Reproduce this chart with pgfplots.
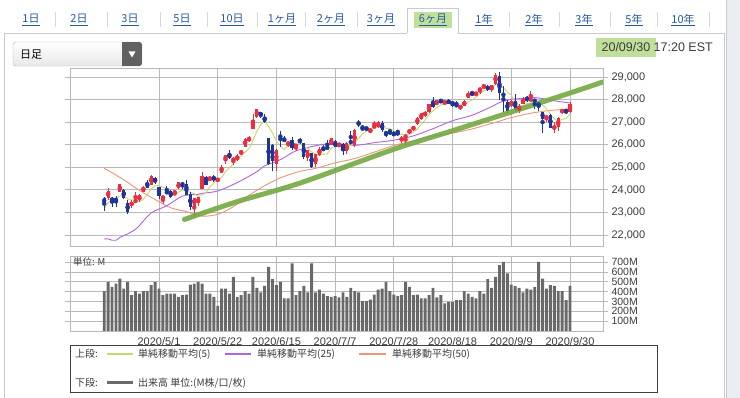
\documentclass[border=0pt]{standalone}
\usepackage{fontspec}
\setmainfont{Noto Sans CJK JP}
\newfontfamily\lat{Liberation Sans}
\usepackage{pgfplots}
\usepackage{pgfplotstable}
\pgfplotsset{compat=1.18}
\newcommand\fs[1]{\fontsize{#1}{#1}\selectfont}
\definecolor{upc}{RGB}{232,48,64}
\definecolor{dnc}{RGB}{30,52,150}
\definecolor{ma5}{RGB}{200,214,110}
\definecolor{ma25}{RGB}{176,100,226}
\definecolor{ma50}{RGB}{236,150,120}
\definecolor{gridc}{RGB}{185,185,185}
\definecolor{volc}{RGB}{105,105,105}
\definecolor{trend}{RGB}{117,168,67}
\definecolor{hl}{RGB}{176,216,130}
\definecolor{linkc}{RGB}{40,88,168}
\definecolor{labc}{RGB}{60,60,60}
\definecolor{panelc}{RGB}{200,204,210}
\definecolor{sepc}{RGB}{215,215,215}
\definecolor{sidebg}{RGB}{234,238,243}

\pgfplotstableread{
i o h l c
-13 23660 24075 23565 23949
-10 23900 24265 23890 24242
-7 23280 23560 23200 23475
-6 23490 23890 23470 23515
-5 23560 23800 23460 23775
-4 23900 24190 23890 24134
-2 24220 24680 24200 24633
1 23580 23750 23360 23749
4 23800 24010 23780 23875
5 24070 24330 24050 24331
9 23300 23650 22790 23625
10 23400 23700 23300 23685
11 24050 24770 24050 24597
13 24400 24620 24400 24575
15 24440 24540 24340 24465
16 24750 25090 24750 24995
17 25300 25550 25150 25548
19 25300 25460 25100 25383
20 25340 25570 25300 25475
21 25600 25750 25550 25742
22 25900 26300 25900 26270
23 26200 26400 26100 26282
24 26700 27340 26700 27111
25 27230 27580 27200 27572
30 25150 25830 24820 25763
33 26040 26170 25890 26080
35 25880 26050 25700 26025
38 25400 25780 25300 25745
40 25150 25600 25000 25596
41 25540 25900 25500 25813
44 26000 26300 26000 26287
46 25950 26080 25880 26067
48 25720 26100 25600 26075
50 26000 26700 25890 26643
54 26600 26720 26500 26681
55 26760 27050 26750 26840
56 26780 27030 26750 27005
62 26200 26380 26080 26314
63 26300 26450 26000 26428
64 26500 26700 26490 26664
65 26640 26850 26600 26828
66 26900 27220 26880 27202
67 27150 27400 27100 27387
68 27300 27480 27250 27433
69 27450 27800 27400 27791
71 27750 28000 27740 27977
73 27850 27950 27760 27931
77 27600 27780 27530 27740
78 27700 27960 27700 27930
79 28050 28360 28050 28308
81 28200 28350 28150 28332
82 28400 28550 28250 28493
83 28550 28660 28470 28654
85 28450 28660 28330 28646
86 28700 29160 28650 29100
90 27700 28000 27650 27940
92 27600 27800 27400 27666
93 27800 28100 27800 27993
95 27950 28370 27950 28032
99 27150 27330 27000 27288
101 26700 27000 26540 26815
102 26800 27230 26620 27174
103 27400 27600 27380 27584
105 27450 27900 27400 27782
}\uptab

\pgfplotstableread{
i o h l c
-14 23655 23705 23076 23390
-12 23640 23700 23253 23504
-11 23580 23730 23250 23538
-9 24010 24050 23600 23650
-8 23420 23530 22942 23018
-3 24320 24430 24080 24101
-1 24520 24560 24250 24346
0 24120 24120 23590 23724
2 23900 24150 23840 23883
3 23950 24000 23640 23665
6 24280 24340 24050 24221
7 24250 24450 23760 23764
8 23800 23900 23100 23248
12 24590 24600 24200 24206
14 24570 24650 24350 24474
18 25600 25750 25350 25401
26 27450 27470 27170 27272
27 27250 27350 26970 26990
28 26280 26300 25080 25128
29 26000 26050 24850 25300
31 26440 26610 25890 26290
32 26300 26370 26100 26120
34 26200 26340 25770 25871
36 26180 26290 26050 26156
37 26060 26070 25370 25446
39 25640 25640 24970 25016
42 25880 25970 25700 25735
43 25900 26200 25800 25827
45 26170 26200 25880 25890
47 26050 26070 25530 25706
49 26150 26630 26050 26086
51 27000 27100 26800 26870
52 26800 26830 26600 26735
53 26780 26810 26600 26672
57 26950 27060 26560 26652
58 26560 26600 26340 26470
59 26610 26630 26450 26585
60 26550 26600 26370 26379
61 26600 26620 26380 26540
70 27850 28120 27630 27687
72 27950 28040 27850 27897
74 27950 28010 27800 27845
75 27900 27920 27670 27778
76 27800 27950 27650 27692
80 28330 28350 28150 28249
84 28600 28630 28400 28430
87 29050 29200 27960 28292
88 28300 28580 27450 28133
89 27900 28000 27420 27500
91 27950 28230 27450 27535
94 28050 28180 27900 27995
96 28000 28000 27600 27902
97 27900 27950 27500 27657
98 27450 27460 26540 27148
100 27300 27340 26740 26763
104 27550 27570 27360 27452
}\dntab

\pgfplotstableread{
i v
-14 405
-13 500
-12 449
-11 483
-10 534
-9 432
-8 500
-7 364
-6 405
-5 381
-4 405
-3 405
-2 466
-1 500
0 432
1 364
2 381
3 381
4 381
5 347
6 364
7 371
8 473
9 483
10 500
11 483
12 381
13 381
14 347
15 255
16 432
17 432
18 381
19 550
20 347
21 364
22 405
23 381
24 550
25 439
26 392
27 459
28 652
29 527
30 466
31 500
32 331
33 331
34 687
35 364
36 405
37 459
38 392
39 687
40 392
41 422
42 381
43 354
44 347
45 354
46 341
47 392
48 347
49 439
50 405
51 392
52 303
53 303
54 320
55 371
56 422
57 432
58 500
59 405
60 371
61 354
62 364
63 500
64 449
65 364
66 371
67 331
68 331
69 364
70 439
71 341
72 364
73 280
74 297
75 297
76 314
77 314
78 405
79 381
80 347
81 331
82 405
83 381
84 527
85 439
86 550
87 669
88 703
89 585
90 473
91 456
92 439
93 392
94 432
95 422
96 449
97 703
98 534
99 432
100 466
101 459
102 405
103 405
104 314
105 459
}\voltab

\begin{document}
\begin{tikzpicture}
\path[use as bounding box] (0pt,0pt) rectangle (740pt,-398pt);
\begin{scope}[x=1pt,y=-1pt]
\fill[white] (0,0) rectangle (740,398);
\fill[sidebg] (726,0) rectangle (740,398);
\draw[panelc] (726,0) -- (726,398);
% panel frame
\draw[panelc] (4,33) -- (4,398);
\draw[panelc] (724,33) -- (724,398);
\draw[panelc] (4,33) -- (407,33);
\draw[panelc] (458,33) -- (724,33);
% selected tab
\draw[panelc, fill=white] (407,33) -- (407,8) -- (458,8) -- (458,33);
\fill[hl, opacity=.8] (414,12) rectangle (452,28);
\foreach \x in {55,107,160,207,257,305,357,509,559,610,657,709}
  \draw[sepc, line width=0.8pt] (\x,12) -- (\x,27);
\foreach \x/\t in {31/1日,79/2日,130/3日,182/5日,232/10日,282/1ヶ月,331/2ヶ月,381/3ヶ月,433/6ヶ月,484/1年,534/2年,584/3年,634/5年,683/10年}
  \node[text=linkc, font=\fs{11}, inner sep=0pt] at (\x,20) {\underline{\t}};
% timestamp
\fill[hl, opacity=.8] (596,38) rectangle (656,57);
\node[anchor=east, text=labc, font=\lat\fs{12.5}, inner sep=0pt] at (713,47) {20/09/30 17:20 EST};
% dropdown
\draw[rounded corners=3pt, draw=gray!60, top color=white, bottom color=gray!18] (13,42) rectangle (142,66);
\begin{scope}
\clip[rounded corners=3pt] (13,42) rectangle (142,66);
\fill[black!62] (122,42) rectangle (142,66);
\end{scope}
\fill[white] (128.5,51.5) -- (135.5,51.5) -- (132,57.5) -- cycle;
\node[anchor=west, font=\fs{11}, inner sep=0pt] at (20,54.5) {日足};
\end{scope}

% ===== price panel =====
\begin{axis}[
 at={(70pt,-68pt)}, anchor=north west, scale only axis,
 width=533pt, height=178pt,
 xmin=-22.74, xmax=113.44, ymin=21513, ymax=29399,
 axis line style={gridc, line width=0.9pt},
 xtick={0,15,...,105}, xticklabels={}, xmajorgrids,
 ytick={22000,23000,...,29000}, ymajorgrids,
 grid style={gridc, line width=0.9pt},
 yticklabel pos=right, scaled y ticks=false,
 tick align=outside, major tick length=5pt,
 ytick style={gridc, line width=0.9pt},
 xtick style={draw=none},
 yticklabel style={font=\lat\fs{11}, text=labc},
 /pgf/number format/1000 sep={,},
 /pgf/number format/assume math mode=true,
]
\addplot[ma50, line width=0.9pt, smooth] coordinates {
(-14,24949) (-13,24863) (-9,24444) (-5,23976) (-1,23572) (3,23207) (7,23034) (11,22837) (15,22919) (19,23255) (23,23759) (27,24184) (31,24533) (36,24821) (40,24952) (45,25195) (50,25388) (55,25673) (60,25964) (65,26174) (70,26387) (75,26516) (80,26700) (85,26943) (90,27203) (95,27397) (100,27520) (105,27580)};
\addplot[ma25, line width=0.9pt, smooth] coordinates {
(-14,21824) (-13,21828) (-12,21767) (-11,21766) (-10,21888) (-6,22254) (-2,22977) (2,23296) (6,23727) (10,23800) (11,23848) (15,23949) (20,24324) (25,24806) (27,25071) (30,25256) (32,25433) (35,25730) (40,25955) (45,26065) (50,25969) (55,26091) (60,26199) (65,26392) (70,26710) (75,27064) (80,27308) (85,27687) (87,27869) (90,28015) (92,28039) (95,28084) (97,28071) (100,27977) (102,27919) (105,27852)};
\addplot[ma5, line width=0.9pt] coordinates {
(-14,23175) (-13,23429) (-12,23599) (-11,23620) (-10,23725) (-9,23777) (-8,23590) (-7,23585) (-6,23580) (-5,23487) (-4,23583) (-3,23800) (-2,24032) (-1,24198) (0,24188) (1,24111) (2,24067) (3,23873) (4,23779) (5,23901) (6,23995) (7,23971) (8,23888) (9,23838) (10,23709) (11,23784) (12,23872) (13,24138) (14,24307) (15,24463) (16,24543) (17,24811) (18,24977) (19,25158) (20,25360) (21,25510) (22,25654) (23,25830) (24,26176) (25,26595) (26,26901) (27,27045) (28,26815) (29,26514) (30,26152) (31,25955) (32,25781) (33,25972) (34,26025) (35,26077) (36,26050) (37,25916) (38,25849) (39,25678) (40,25592) (41,25523) (42,25581) (43,25597) (44,25852) (45,25910) (46,25961) (47,25955) (48,26005) (49,25965) (50,26115) (51,26276) (52,26482) (53,26601) (54,26720) (55,26760) (56,26787) (57,26770) (58,26730) (59,26710) (60,26618) (61,26525) (62,26458) (63,26449) (64,26465) (65,26555) (66,26687) (67,26902) (68,27103) (69,27328) (70,27500) (71,27655) (72,27757) (73,27857) (74,27867) (75,27886) (76,27829) (77,27797) (78,27797) (79,27890) (80,27984) (81,28112) (82,28262) (83,28407) (84,28432) (85,28511) (86,28665) (87,28624) (88,28520) (89,28334) (90,28193) (91,27880) (92,27755) (93,27727) (94,27826) (95,27844) (96,27918) (97,27916) (98,27747) (99,27605) (100,27352) (101,27134) (102,27038) (103,27125) (104,27158) (105,27363)};
% wicks
\addplot[upc, only marks, mark=none, error bars/.cd, y dir=both, y explicit, error mark=none, error bar style={line width=0.8pt, draw=upc}]
 table[x=i, y expr={(\thisrow{h}+\thisrow{l})/2}, y error expr={(\thisrow{h}-\thisrow{l})/2}] {\uptab};
\addplot[dnc, only marks, mark=none, error bars/.cd, y dir=both, y explicit, error mark=none, error bar style={line width=0.8pt, draw=dnc}]
 table[x=i, y expr={(\thisrow{h}+\thisrow{l})/2}, y error expr={(\thisrow{h}-\thisrow{l})/2}] {\dntab};
% bodies
\addplot[upc, only marks, mark=none, error bars/.cd, y dir=both, y explicit, error mark=none, error bar style={line width=3.2pt, draw=upc}]
 table[x=i, y expr={(\thisrow{o}+\thisrow{c})/2}, y error expr={max(abs(\thisrow{c}-\thisrow{o})/2,25)}] {\uptab};
\addplot[dnc, only marks, mark=none, error bars/.cd, y dir=both, y explicit, error mark=none, error bar style={line width=3.2pt, draw=dnc}]
 table[x=i, y expr={(\thisrow{o}+\thisrow{c})/2}, y error expr={max(abs(\thisrow{c}-\thisrow{o})/2,25)}] {\dntab};
% hand-drawn trend line
\addplot[trend, opacity=0.9, line width=5pt, line cap=round, smooth] coordinates {
(6.5,22690) (20,23480) (36,24300) (60,25800) (75,26620) (90,27450) (105,28290) (113.4,28780)};
\end{axis}

% ===== volume panel =====
\begin{axis}[
 at={(70pt,-256pt)}, anchor=north west, scale only axis,
 width=533pt, height=75pt,
 xmin=-22.74, xmax=113.44, ymin=0, ymax=763,
 axis line style={gridc, line width=0.9pt},
 xtick={0,15,...,105},
 xticklabels={2020/5/1,2020/5/22,2020/6/15,2020/7/7,2020/7/28,2020/8/18,2020/9/9,2020/9/30},
 xmajorgrids,
 ytick={100,200,...,700},
 yticklabels={100M,200M,300M,400M,500M,600M,700M},
 ymajorgrids,
 grid style={gridc, line width=0.9pt},
 yticklabel pos=right,
 tick align=outside, major tick length=5pt,
 ytick style={gridc, line width=0.9pt},
 xtick style={draw=none},
 yticklabel style={font=\lat\fs{10.5}, text=labc},
 xticklabel style={font=\lat\fs{11}, text=labc, yshift=2pt},
]
\addplot[ybar, bar width=2.9pt, fill=volc, draw=none] table[x=i, y=v] {\voltab};
\end{axis}

\begin{scope}[x=1pt,y=-1pt]
\node[anchor=west, font=\fs{9.5}, text=labc, inner sep=0pt] at (73,262) {単位: M};
% legend box
\draw[black!75, line width=0.8pt, fill=white] (70,345) rectangle (657,392);
\node[anchor=west, font=\fs{10}, text=labc, inner sep=0pt] at (75,354) {上段:};
\draw[ma5, line width=1.3pt] (107,354) -- (133,354);
\node[anchor=west, font=\fs{10}, text=labc, inner sep=0pt] at (138,354) {単純移動平均(5)};
\draw[ma25, line width=1.3pt] (225,354) -- (251,354);
\node[anchor=west, font=\fs{10}, text=labc, inner sep=0pt] at (257,354) {単純移動平均(25)};
\draw[ma50, line width=1.3pt] (359,354) -- (386,354);
\node[anchor=west, font=\fs{10}, text=labc, inner sep=0pt] at (392,354) {単純移動平均(50)};
\node[anchor=west, font=\fs{10}, text=labc, inner sep=0pt] at (75,383) {下段:};
\draw[volc, line width=3pt] (107,383) -- (133,383);
\node[anchor=west, font=\fs{10}, text=labc, inner sep=0pt] at (138,383) {出来高 単位:(M株/口/枚)};
\end{scope}
\end{tikzpicture}
\end{document}
